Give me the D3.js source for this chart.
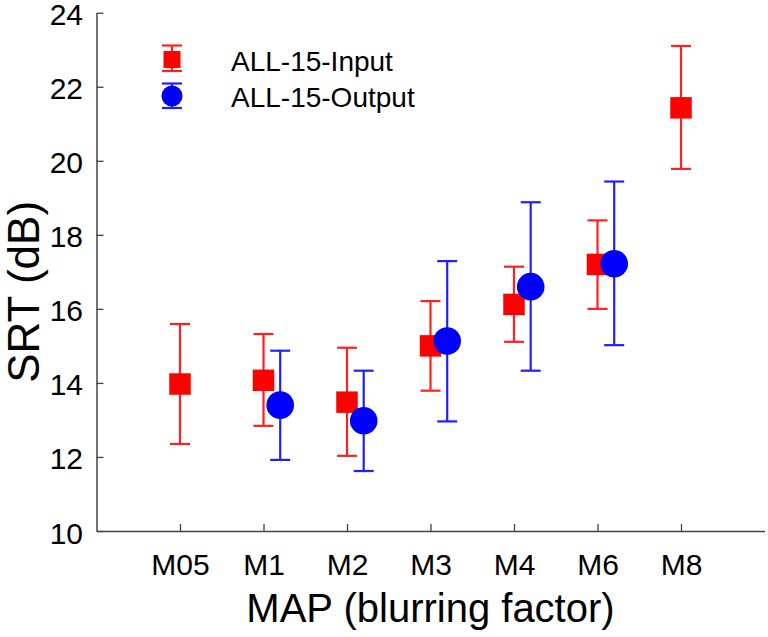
<!DOCTYPE html>
<html>
<head>
<meta charset="utf-8">
<script src="https://cdn.jsdelivr.net/npm/d3@7"></script>
<style>
  html, body { margin: 0; padding: 0; background: #fff; }
  svg { display: block; font-family: Arial, "Liberation Sans", Helvetica, sans-serif; }
</style>
</head>
<body>
<svg id="chart" width="768" height="637"></svg>
<script>
const categories = ["M05", "M1", "M2", "M3", "M4", "M6", "M8"];

const inputCats  = ["M05", "M1", "M2", "M3", "M4", "M6", "M8"];
const inputMean  = [13.97, 14.07, 13.48, 15.00, 16.12, 17.20, 21.43];
const inputUpper = [15.59, 15.32, 14.95, 16.21, 17.14, 18.39, 23.10];
const inputLower = [12.35, 12.84, 12.03, 13.79, 15.11, 16.00, 19.78];

const outputCats  = ["M1", "M2", "M3", "M4", "M6"];
const outputMean  = [13.40, 12.98, 15.13, 16.60, 17.22];
const outputUpper = [14.87, 14.33, 17.29, 18.88, 19.44];
const outputLower = [11.92, 11.62, 12.96, 14.33, 15.02];

const yTicks = [10, 12, 14, 16, 18, 20, 22, 24];
const seriesNames = ["ALL-15-Input", "ALL-15-Output"];

(function () {
const svg = d3.select("#chart");
const pL = 96.5, pR = 764.5, pT = 12.7, pB = 531;

const x = d3.scaleLinear().domain([0, 8]).range([pL, pR]);
const y = d3.scaleLinear().domain([10, 24]).range([pB, pT]);
const catPos = c => categories.indexOf(c) + 1;
const outOffset = 0.2;

const axisColor = "#444";

// X axis
const gx = svg.append("g").attr("transform", `translate(0,${pB})`)
  .call(d3.axisBottom(x)
    .tickValues(categories.map((c, i) => i + 1))
    .tickFormat((d) => categories[d - 1])
    .tickSizeInner(-7).tickSizeOuter(0).tickPadding(22.7));
gx.select(".domain").attr("stroke", axisColor).attr("stroke-width", 1.5);
gx.selectAll(".tick line").attr("stroke", axisColor).attr("stroke-width", 1.3);
gx.selectAll(".tick text").attr("font-size", 30).attr("fill", "#000")
  .attr("font-family", "Arial, 'Liberation Sans', sans-serif");

// Y axis
const gy = svg.append("g").attr("transform", `translate(${pL},0)`)
  .call(d3.axisLeft(y).tickValues(yTicks)
    .tickSizeInner(-7).tickSizeOuter(0).tickPadding(13.5));
gy.select(".domain").attr("stroke", axisColor).attr("stroke-width", 1.5);
gy.selectAll(".tick line").attr("stroke", axisColor).attr("stroke-width", 1.3);
gy.selectAll(".tick text").attr("font-size", 30).attr("fill", "#000").attr("dy", "0.40em")
  .attr("font-family", "Arial, 'Liberation Sans', sans-serif");

// Axis titles
svg.append("text")
  .attr("x", (pL + pR) / 2).attr("y", 622)
  .attr("text-anchor", "middle").attr("font-size", 40).attr("fill", "#000")
  .text("MAP (blurring factor)");
svg.append("text")
  .attr("transform", `translate(39,${(pT + pB) / 2 + 20}) rotate(-90)`)
  .attr("text-anchor", "middle").attr("font-size", 44).attr("fill", "#000")
  .text("SRT (dB)");

// Data
const inputData = inputCats.map((c, i) => ({ c, m: inputMean[i], u: inputUpper[i], l: inputLower[i] }));
const outputData = outputCats.map((c, i) => ({ c, m: outputMean[i], u: outputUpper[i], l: outputLower[i] }));

function errorBars(g, data, off, color) {
  const capHalf = 10;
  const eg = g.append("g").attr("stroke", color).attr("stroke-width", 2.2).attr("fill", "none");
  eg.selectAll("line.v").data(data).join("line").attr("class", "v")
    .attr("x1", d => x(catPos(d.c) + off)).attr("x2", d => x(catPos(d.c) + off))
    .attr("y1", d => y(d.u)).attr("y2", d => y(d.l));
  eg.selectAll("line.t").data(data).join("line").attr("class", "t")
    .attr("x1", d => x(catPos(d.c) + off) - capHalf).attr("x2", d => x(catPos(d.c) + off) + capHalf)
    .attr("y1", d => y(d.u)).attr("y2", d => y(d.u));
  eg.selectAll("line.b").data(data).join("line").attr("class", "b")
    .attr("x1", d => x(catPos(d.c) + off) - capHalf).attr("x2", d => x(catPos(d.c) + off) + capHalf)
    .attr("y1", d => y(d.l)).attr("y2", d => y(d.l));
}

const plot = svg.append("g");
// Input series (red squares)
const gIn = plot.append("g");
errorBars(gIn, inputData, 0, "#ff2020");
const sq = 21.5;
gIn.selectAll("rect").data(inputData).join("rect")
  .attr("x", d => x(catPos(d.c)) - sq / 2).attr("y", d => y(d.m) - sq / 2)
  .attr("width", sq).attr("height", sq).attr("fill", "#ff0000");

// Output series (blue circles)
const gOut = plot.append("g");
errorBars(gOut, outputData, outOffset, "#2020ff");
gOut.selectAll("circle").data(outputData).join("circle")
  .attr("cx", d => x(catPos(d.c) + outOffset)).attr("cy", d => y(d.m))
  .attr("r", 13.8).attr("fill", "#0000ff");

// Legend
const lg = svg.append("g");
const lx = 172;
// red entry
lg.append("line").attr("x1", lx).attr("x2", lx).attr("y1", 45.5).attr("y2", 71).attr("stroke", "#ff2020").attr("stroke-width", 2.2);
lg.append("line").attr("x1", lx - 10).attr("x2", lx + 10).attr("y1", 45.5).attr("y2", 45.5).attr("stroke", "#ff2020").attr("stroke-width", 2.2);
lg.append("line").attr("x1", lx - 10).attr("x2", lx + 10).attr("y1", 71).attr("y2", 71).attr("stroke", "#ff2020").attr("stroke-width", 2.2);
lg.append("rect").attr("x", lx - 8.5).attr("y", 59.5 - 8.5).attr("width", 17).attr("height", 17).attr("fill", "#ff0000");
// blue entry
lg.append("line").attr("x1", lx).attr("x2", lx).attr("y1", 83.5).attr("y2", 108).attr("stroke", "#2020ff").attr("stroke-width", 2.2);
lg.append("line").attr("x1", lx - 10).attr("x2", lx + 10).attr("y1", 83.5).attr("y2", 83.5).attr("stroke", "#2020ff").attr("stroke-width", 2.2);
lg.append("line").attr("x1", lx - 10).attr("x2", lx + 10).attr("y1", 108).attr("y2", 108).attr("stroke", "#2020ff").attr("stroke-width", 2.2);
lg.append("circle").attr("cx", lx).attr("cy", 96).attr("r", 10.5).attr("fill", "#0000ff");

lg.selectAll("text").data(seriesNames).join("text")
  .attr("x", 231).attr("y", (d, i) => 61 + i * 36).attr("dy", "0.35em")
  .attr("font-size", 28).attr("fill", "#000")
  .text(d => d);
})();
</script>
</body>
</html>
